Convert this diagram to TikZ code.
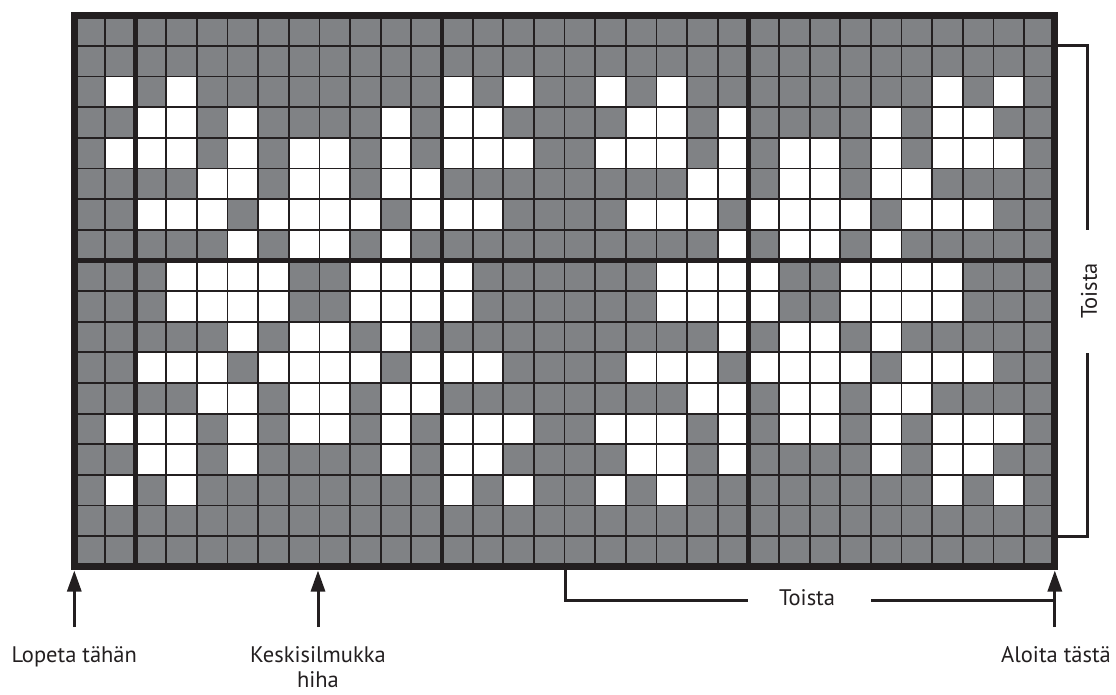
\documentclass[tikz,border=0pt]{standalone}
\usepackage{fontspec}
\setmainfont{PT Sans}
\usetikzlibrary{arrows.meta}
\definecolor{cellgray}{HTML}{808285}
\definecolor{ink}{HTML}{231F20}
\tikzset{
  thinrule/.style={draw=ink, line width=1.8pt},
  thickrule/.style={draw=ink, line width=4.6pt},
  frame/.style={draw=ink, line width=7pt},
  bracket/.style={draw=ink, line width=3pt},
  marker/.style={draw=ink, fill=ink, line width=3pt, -{Triangle[width=14pt,length=21pt]}},
  label/.style={text=ink, font=\fontsize{22.5}{25}\selectfont, inner sep=0pt},
  whitecell/.style={fill=white}
}
\begin{document}
\begin{tikzpicture}[x=1pt,y=-1pt]
\useasboundingbox (0,0) rectangle (1116,695);
\begin{scope}[shift={(74.3pt,-15.3pt)}, x=30.64pt, y=-30.64pt]
  \fill[cellgray] (0,0) rectangle (32,18);
  \foreach \r/\cols in {
      2/{1,3,12,14},
      3/{2,3,5,10,12,13},
      4/{1,2,3,5,7,8,10,12,13,14},
      5/{4,5,7,8,10,11},
      6/{2,3,4,6,7,8,9,11,12,13},
      7/{5,7,8,10},
      8/{3,4,5,6,9,10,11,12},
      9/{3,4,5,6,9,10,11,12},
      10/{5,7,8,10},
      11/{2,3,4,6,7,8,9,11,12,13},
      12/{4,5,7,8,10,11},
      13/{1,2,3,5,7,8,10,12,13,14},
      14/{2,3,5,10,12,13},
      15/{1,3,12,14}} {
    \foreach \c in \cols {
      \fill[whitecell] (\c,\r) rectangle ++(1,1);
      \fill[whitecell] (\c+16,\r) rectangle ++(1,1);
    }
  }
  \foreach \k in {1,...,31} \draw[thinrule] (\k,0) -- (\k,18);
  \foreach \j in {1,...,17} \draw[thinrule] (0,\j) -- (32,\j);
  \foreach \k in {2,12,22} \draw[thickrule] (\k,0) -- (\k,18);
  \draw[thickrule] (0,8) -- (32,8);
  \draw[frame] (0,0) rectangle (32,18);
\end{scope}

% bottom markers
\coordinate (stopTip) at (74.3,570.5);
\coordinate (stopTail) at (74.3,627);
\coordinate (midTip) at (318.0,570.5);
\coordinate (midTail) at (318.0,627);
\coordinate (startTip) at (1054.8,570.5);
\coordinate (startTail) at (1054.8,627);
\draw[marker] (stopTail) -- (stopTip);
\draw[marker] (midTail) -- (midTip);
\draw[marker] (startTail) -- (startTip);

\node[label, anchor=base] (stop) at (74.3,662) {Lopeta tähän};
\node[label, anchor=base] (start) at (1056,662) {Aloita tästä};
\node[label, anchor=base, align=center] (mid) at (318,687) {Keskisilmukka\\hiha};

% horizontal repeat bracket
\coordinate (hb1) at (565,570);
\coordinate (hb2) at (565,600);
\coordinate (hb3) at (748,600);
\coordinate (hb4) at (871,600);
\coordinate (hb5) at (1054.8,600);
\draw[bracket] (hb1) -- (hb2) -- (hb3);
\draw[bracket] (hb4) -- (hb5);
\node[label, anchor=base] (hrep) at (807,605) {Toista};

% vertical repeat bracket
\coordinate (vb1) at (1058,46);
\coordinate (vb2) at (1087.5,46);
\coordinate (vb3) at (1087.5,230);
\coordinate (vb4) at (1087.5,353);
\coordinate (vb5) at (1087.5,536.5);
\coordinate (vb6) at (1058,536.5);
\draw[bracket] (vb1) -- (vb2) -- (vb3);
\draw[bracket] (vb4) -- (vb5) -- (vb6);
\node[label, rotate=90] (vrep) at (1089,291) {Toista};
\end{tikzpicture}
\end{document}
